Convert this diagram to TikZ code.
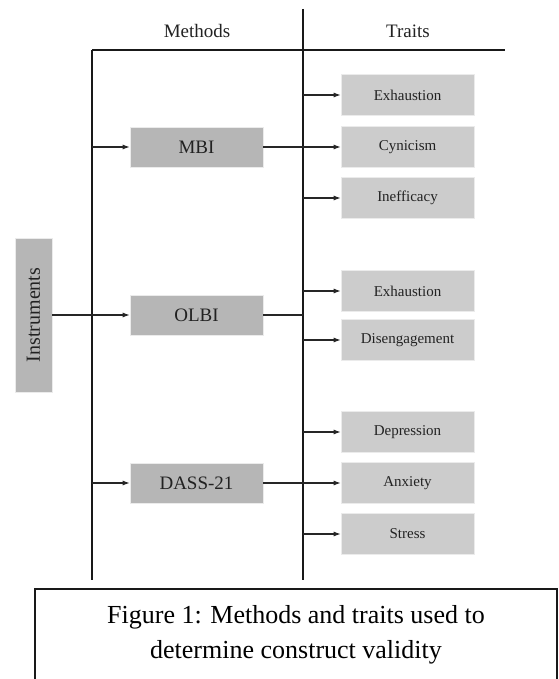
\documentclass[tikz,border=0pt]{standalone}
\usepackage{fontspec}
\setmainfont{Liberation Serif}
\usetikzlibrary{arrows.meta}
\definecolor{methodgray}{HTML}{B6B6B6}
\definecolor{traitgray}{HTML}{CCCCCC}
\definecolor{txt}{HTML}{222222}
\begin{document}
\begin{tikzpicture}[x=1pt,y=-1pt,
  methodbox/.style={fill=methodgray,draw=white!92!black,line width=0.6pt,minimum width=133pt,minimum height=40pt,inner sep=0pt,text=txt,font=\fontsize{19}{19}\selectfont},
  traitbox/.style={fill=traitgray,draw=white!92!black,line width=0.6pt,minimum width=133pt,minimum height=41pt,inner sep=0pt,text=txt,font=\fontsize{15}{15}\selectfont},
  instbox/.style={fill=methodgray,draw=white!92!black,line width=0.6pt,minimum width=154pt,minimum height=37pt,inner sep=0pt,text=txt,rotate=90,font=\fontsize{20}{20}\selectfont},
  header/.style={anchor=base,text=txt,font=\fontsize{19}{19}\selectfont},
  mainline/.style={line width=2pt,black!90},
  conn/.style={line width=1.1pt,black!85},
  arr/.style={conn,-{Latex[length=7pt,width=5pt]}}]
\useasboundingbox (0,0) rectangle (558,679);
\clip (0,0) rectangle (558,679);

% headers
\node[header] (methods) at (197,38) {Methods};
\node[header] (traits) at (408,38) {Traits};

% frame lines
\coordinate (v1top) at (92,50);
\coordinate (v1bot) at (92,580);
\coordinate (v2top) at (303,9);
\coordinate (v2bot) at (303,580);
\coordinate (hend) at (505,50);
\draw[line width=1.3pt,black!90] (v1top) -- (hend);
\draw[mainline] (v1top) -- (v1bot);
\draw[mainline] (v2top) -- (v2bot);

% nodes
\node[instbox] (inst) at (33.5,315) {Instruments};
\node[methodbox] (mbi) at (196.5,147) {MBI};
\node[methodbox] (olbi) at (196.5,315) {OLBI};
\node[methodbox] (dass) at (196.5,483) {DASS-21};

\node[traitbox] (exh1) at (407.5,95) {Exhaustion};
\node[traitbox] (cyn) at (407.5,147) {Cynicism};
\node[traitbox] (ineff) at (407.5,198) {Inefficacy};
\node[traitbox] (exh2) at (407.5,291) {Exhaustion};
\node[traitbox] (dis) at (407.5,340) {Disengagement};
\node[traitbox] (dep) at (407.5,432) {Depression};
\node[traitbox] (anx) at (407.5,483) {Anxiety};
\node[traitbox] (str) at (407.5,534) {Stress};

% instruments to methods
\draw[arr] (inst.south) -- (olbi.west);
\draw[arr] (v1top |- mbi.west) -- (mbi.west);
\draw[arr] (v1top |- dass.west) -- (dass.west);

% methods to traits
\draw[arr] (mbi.east) -- (cyn.west);
\draw[arr] (v2top |- exh1.west) -- (exh1.west);
\draw[arr] (v2top |- ineff.west) -- (ineff.west);

\draw[conn] (olbi.east) -- (v2top |- olbi.east);
\draw[arr] (v2top |- exh2.west) -- (exh2.west);
\draw[arr] (v2top |- dis.west) -- (dis.west);

\draw[arr] (dass.east) -- (anx.west);
\draw[arr] (v2top |- dep.west) -- (dep.west);
\draw[arr] (v2top |- str.west) -- (str.west);

% caption
\draw[line width=1.5pt,black!90] (35,589) rectangle (557,700);
\node[text=black,align=center,font=\fontsize{26}{35}\selectfont] (caption) at (296,635) {Figure 1: Methods and traits used to\\determine construct validity};
\end{tikzpicture}
\end{document}
